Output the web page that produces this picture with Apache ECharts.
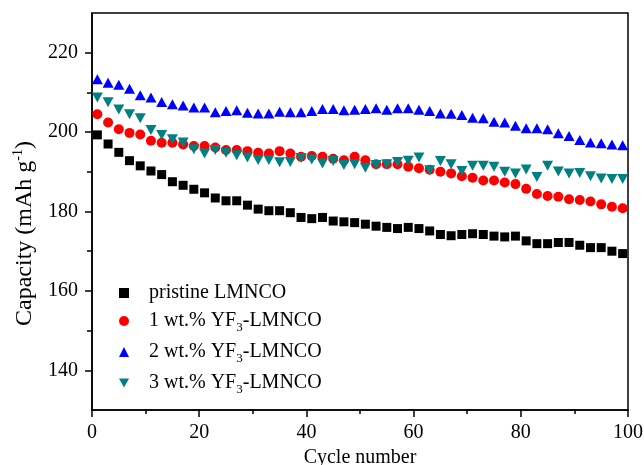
<!DOCTYPE html>
<html>
<head>
<meta charset="UTF-8">
<title></title>
<script src="https://cdn.jsdelivr.net/npm/echarts@6/dist/echarts.min.js"></script>
</head>
<body style="margin:0">
<div id="main" style="width:644px;height:465px"></div>
<script>
// cycle numbers (x)
var cycles = [1, 3, 5, 7, 9, 11, 13, 15, 17, 19, 21, 23, 25, 27, 29, 31, 33, 35, 37, 39, 41, 43, 45, 47, 49,
	51, 53, 55, 57, 59, 61, 63, 65, 67, 69, 71, 73, 75, 77, 79, 81, 83, 85, 87, 89, 91, 93, 95, 97, 99];
// capacities, mAh/g
var pristine = [199.3, 197.0, 194.9, 192.8, 191.5, 190.2, 189.3, 187.5, 186.6, 185.6, 184.7, 183.4, 182.7, 182.7, 181.6, 180.6, 180.2, 180.2, 179.7, 178.5, 178.2, 178.5, 177.6, 177.4, 177.2,
	176.8, 176.3, 176.0, 175.7, 176.0, 175.7, 175.1, 174.2, 173.9, 174.2, 174.4, 174.2, 173.8, 173.6, 173.8, 172.6, 171.9, 171.9, 172.2, 172.2, 171.5, 170.9, 170.9, 170.0, 169.4];
var yf1 = [204.5, 202.4, 200.7, 199.8, 199.4, 197.8, 197.3, 197.3, 196.9, 196.5, 196.5, 196.1, 195.5, 195.5, 195.2, 194.8, 194.6, 195.2, 194.6, 193.8, 194.0, 193.8, 193.3, 192.9, 193.8,
	192.9, 191.9, 191.9, 191.9, 191.3, 190.9, 190.5, 190.0, 189.6, 188.9, 188.5, 187.8, 187.8, 187.3, 186.9, 185.7, 184.4, 183.9, 183.7, 183.1, 182.9, 182.5, 181.8, 181.2, 180.8];
var yf2 = [213.3, 212.4, 211.9, 210.9, 209.3, 208.7, 207.6, 207.0, 206.7, 206.2, 206.2, 205.0, 205.3, 205.5, 204.9, 204.7, 204.7, 205.1, 205.0, 205.0, 205.3, 205.8, 205.8, 205.5, 205.6,
	205.8, 206.0, 205.6, 206.0, 206.0, 205.6, 205.3, 204.7, 204.6, 204.3, 203.6, 203.5, 202.6, 202.4, 201.6, 201.0, 201.0, 200.7, 199.7, 199.0, 198.0, 197.4, 197.2, 196.9, 196.7];
var yf3 = [208.7, 207.5, 205.7, 204.5, 203.5, 200.5, 199.3, 198.2, 197.4, 195.7, 194.6, 195.5, 194.8, 194.2, 193.6, 193.0, 193.0, 192.4, 192.5, 193.5, 193.1, 192.1, 192.7, 191.7, 191.9,
	191.0, 191.7, 191.9, 192.5, 192.8, 193.6, 190.4, 192.7, 191.9, 190.2, 191.5, 191.5, 191.3, 190.0, 189.6, 190.6, 188.7, 191.5, 190.1, 189.6, 189.7, 188.9, 188.3, 188.2, 188.2];

var names = ['pristine LMNCO', '1 wt.% YF3-LMNCO', '2 wt.% YF3-LMNCO', '3 wt.% YF3-LMNCO'];
var yMajorTicks = [140, 160, 180, 200, 220];
var yMinorTicks = [150, 170, 190, 210];

var font = 'Liberation Serif';

function pairs(ys) {
	var out = [];
	for (var i = 0; i < cycles.length; i++) {
		out.push([cycles[i], ys[i]]);
	}
	return out;
}

var myChart = echarts.init(document.getElementById('main'));

var option = {
	animation: false,
	backgroundColor: '#fff',
	grid: {
		left: 92, right: 16, top: 13, bottom: 55,
		outerBoundsMode: 'none',
		show: true, borderColor: '#000', borderWidth: 1.5
	},
	legend: {
		orient: 'vertical',
		left: 114,
		top: 278,
		itemWidth: 10,
		itemHeight: 10,
		itemGap: 8,
		textStyle: {
			fontFamily: font, fontSize: 20, color: '#000',
			padding: [0, 0, 0, 15],
			rich: {
				sub: { fontFamily: font, fontSize: 13, color: '#000', padding: [13, 0, 0, 0] }
			}
		},
		formatter: function(name) {
			return name.replace('YF3', 'YF{sub|3}');
		},
		data: [
			{ name: names[0], icon: 'rect' },
			{ name: names[1], icon: 'circle' },
			{ name: names[2], icon: 'triangle' },
			{ name: names[3], icon: 'path://M0,0L10,0L5,9Z' }
		]
	},
	xAxis: {
		type: 'value',
		min: 0,
		max: 100,
		interval: 20,
		name: 'Cycle number',
		nameLocation: 'middle',
		nameGap: 37,
		nameTextStyle: { fontFamily: font, fontSize: 20, color: '#000' },
		axisLine: { lineStyle: { color: '#000', width: 1.5 } },
		axisTick: { length: 7, lineStyle: { color: '#000', width: 1.5 } },
		minorTick: { show: true, splitNumber: 2, length: 4, lineStyle: { color: '#000', width: 1.5 } },
		splitLine: { show: false },
		axisLabel: { fontFamily: font, fontSize: 20, color: '#000', margin: 13 }
	},
	yAxis: [{
		type: 'value',
		min: 130,
		max: 230,
		interval: 10,
		name: 'Capacity (mAh g{sup|-1})',
		nameLocation: 'middle',
		nameRotate: 90,
		nameGap: 52,
		nameTextStyle: {
			fontFamily: font, fontSize: 24, color: '#000',
			padding: [0, 44, 0, 0],
			rich: {
				sup: { fontFamily: font, fontSize: 14, color: '#000', padding: [0, 0, 14, 0] }
			}
		},
		axisLine: { lineStyle: { color: '#000', width: 1.5 } },
		axisTick: { length: 7, customValues: yMajorTicks, lineStyle: { color: '#000', width: 1.5 } },
		splitLine: { show: false },
		axisLabel: { fontFamily: font, fontSize: 20, color: '#000', margin: 14, customValues: yMajorTicks }
	}, {
		type: 'value',
		position: 'left',
		min: 130,
		max: 230,
		interval: 10,
		axisLine: { show: false },
		axisTick: { length: 5, customValues: yMinorTicks, lineStyle: { color: '#000', width: 1.5 } },
		splitLine: { show: false },
		axisLabel: { show: false }
	}],
	series: [{
		name: names[0],
		type: 'scatter',
		symbol: 'rect',
		symbolSize: 9,
		itemStyle: { color: '#000', opacity: 1 },
		data: pairs(pristine)
	}, {
		name: names[1],
		type: 'scatter',
		symbol: 'circle',
		symbolSize: 10,
		itemStyle: { color: '#ff0000', opacity: 1 },
		data: pairs(yf1)
	}, {
		name: names[2],
		type: 'scatter',
		symbol: 'triangle',
		symbolSize: [11, 10],
		itemStyle: { color: '#0000ff', opacity: 1 },
		data: pairs(yf2)
	}, {
		name: names[3],
		type: 'scatter',
		symbol: 'triangle',
		symbolRotate: 180,
		symbolSize: [11, 10],
		itemStyle: { color: '#008080', opacity: 1 },
		data: pairs(yf3)
	}]
};

myChart.setOption(option);
</script>
</body>
</html>
